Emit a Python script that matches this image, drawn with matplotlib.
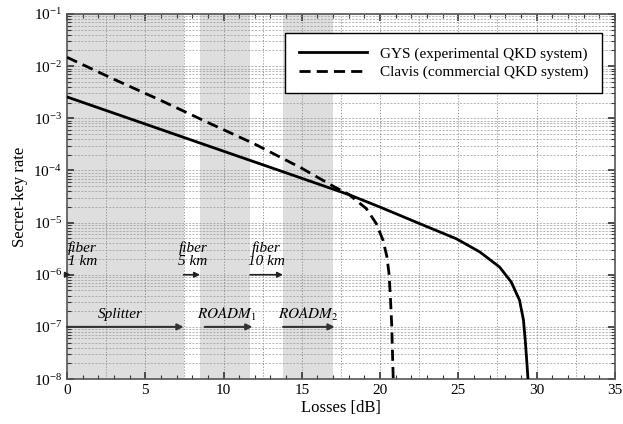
import numpy as np
import matplotlib
matplotlib.use("Agg")
import matplotlib.pyplot as plt
from matplotlib.ticker import LogLocator, MultipleLocator, NullFormatter

plt.rcParams['font.family'] = ['Liberation Serif', 'DejaVu Serif']
plt.rcParams['mathtext.fontset'] = 'stix'

# values
gys_loss = [0, 5, 10, 15, 18.06, 19.97, 22.53, 24.87, 26.36, 27.63, 28.38, 28.91,
            29.16, 29.29, 29.38, 29.47]
gys_rate = [2.57e-3, 7.76e-4, 2.34e-4, 7.08e-5, 3.39e-5, 2.0e-5, 9.55e-6, 4.9e-6,
            2.75e-6, 1.41e-6, 7.24e-7, 3.24e-7, 1.35e-7, 4.8e-8, 2.0e-8, 8e-9]
clavis_loss = [0, 3, 6, 9, 12, 15, 17.0, 18.0, 19.12, 19.76, 20.19, 20.44, 20.57,
               20.66, 20.74, 20.85]
clavis_rate = [1.48e-2, 5.6e-3, 2.2e-3, 8.3e-4, 3.2e-4, 1.1e-4, 5.0e-5, 3.47e-5,
               1.86e-5, 9.55e-6, 4.57e-6, 2.19e-6, 1.05e-6, 3.7e-7, 1.15e-7, 8e-9]

bands = [(0, 7.45), (8.5, 11.7), (13.8, 17.0)]
device_names = ['Splitter', r'$ROADM_1$', r'$ROADM_2$']
device_text_x = [3.4, 10.2, 15.4]
device_arrows = [(0, 7.45), (8.8, 11.85), (13.8, 17.1)]
fiber_names = ['fiber\n1 km', 'fiber\n5 km', 'fiber\n10 km']
fiber_text_x = [0.05, 8.05, 12.75]
fiber_arrows = [(0, 0.25), (7.45, 8.5), (11.7, 13.8)]

fig = plt.figure(figsize=(6.23, 4.24), dpi=100)
ax = fig.add_axes([0.1075, 0.106, 0.8795, 0.861])

for a, b in bands:
    ax.axvspan(a, b, color='#dedede', lw=0, zorder=0)

# grid: dotted verticals every 2.5 dB, dashed horizontals on the log ticks
for xv in np.arange(2.5, 35, 2.5):
    ax.axvline(xv, color='#888888', ls=(0, (1.5, 2)), lw=0.6, zorder=1)
ax.grid(True, which='both', axis='y', color='#999999', ls=(0, (3, 2)), lw=0.5, zorder=1)

ax.plot(gys_loss, gys_rate, color='black', lw=2, label='GYS (experimental QKD system)', zorder=5)
ax.plot(clavis_loss, clavis_rate, color='black', lw=2, ls=(0, (4, 2.2)),
        label='Clavis (commercial QKD system)', zorder=5)

ax.set_yscale('log')
ax.set_xlim(0, 35)
ax.set_ylim(1e-8, 1e-1)

for (a, b), name, tx in zip(device_arrows, device_names, device_text_x):
    ax.annotate('', xy=(b, 1e-7), xytext=(a, 1e-7),
                arrowprops=dict(arrowstyle='-|>', color='#333333', lw=1.5,
                                mutation_scale=9, shrinkA=0, shrinkB=0), zorder=6)
    ax.text(tx, 1.45e-7, name, style='italic', fontsize=11, ha='center', va='baseline')

for i, ((a, b), name, tx) in enumerate(zip(fiber_arrows, fiber_names, fiber_text_x)):
    ax.annotate('', xy=(b, 1e-6), xytext=(a, 1e-6),
                arrowprops=dict(arrowstyle='-|>', color='#222222', lw=1.2,
                                mutation_scale=8, shrinkA=0, shrinkB=0), zorder=6)
    ax.text(tx, 1.35e-6, name, style='italic', fontsize=11,
            ha='left' if i == 0 else 'center', va='bottom', linespacing=1.0)

ax.xaxis.set_major_locator(MultipleLocator(5))
ax.xaxis.set_minor_locator(MultipleLocator(1))
ax.yaxis.set_major_locator(LogLocator(base=10, numticks=20))
ax.yaxis.set_minor_locator(LogLocator(base=10, subs=np.arange(2, 10), numticks=20))
ax.yaxis.set_minor_formatter(NullFormatter())
ax.tick_params(which='both', direction='in', top=True, right=True, labelsize=11, colors='#333333')
ax.tick_params(which='major', length=5, width=1.2)
ax.tick_params(which='minor', length=3, width=0.8)
ax.tick_params(labelcolor='black')
for s in ax.spines.values():
    s.set_color('#555555')
    s.set_linewidth(1.2)

ax.set_xlabel('Losses [dB]', fontsize=12, labelpad=2)
ax.set_ylabel('Secret-key rate', fontsize=12, labelpad=4)

leg = ax.legend(loc='upper right', bbox_to_anchor=(0.976, 0.948), borderaxespad=0,
                fancybox=False, framealpha=1, edgecolor='black', fontsize=11,
                handlelength=4.5, borderpad=0.9, labelspacing=0.3)
leg.get_frame().set_linewidth(1.0)

fig.savefig('out.png', dpi=100)
